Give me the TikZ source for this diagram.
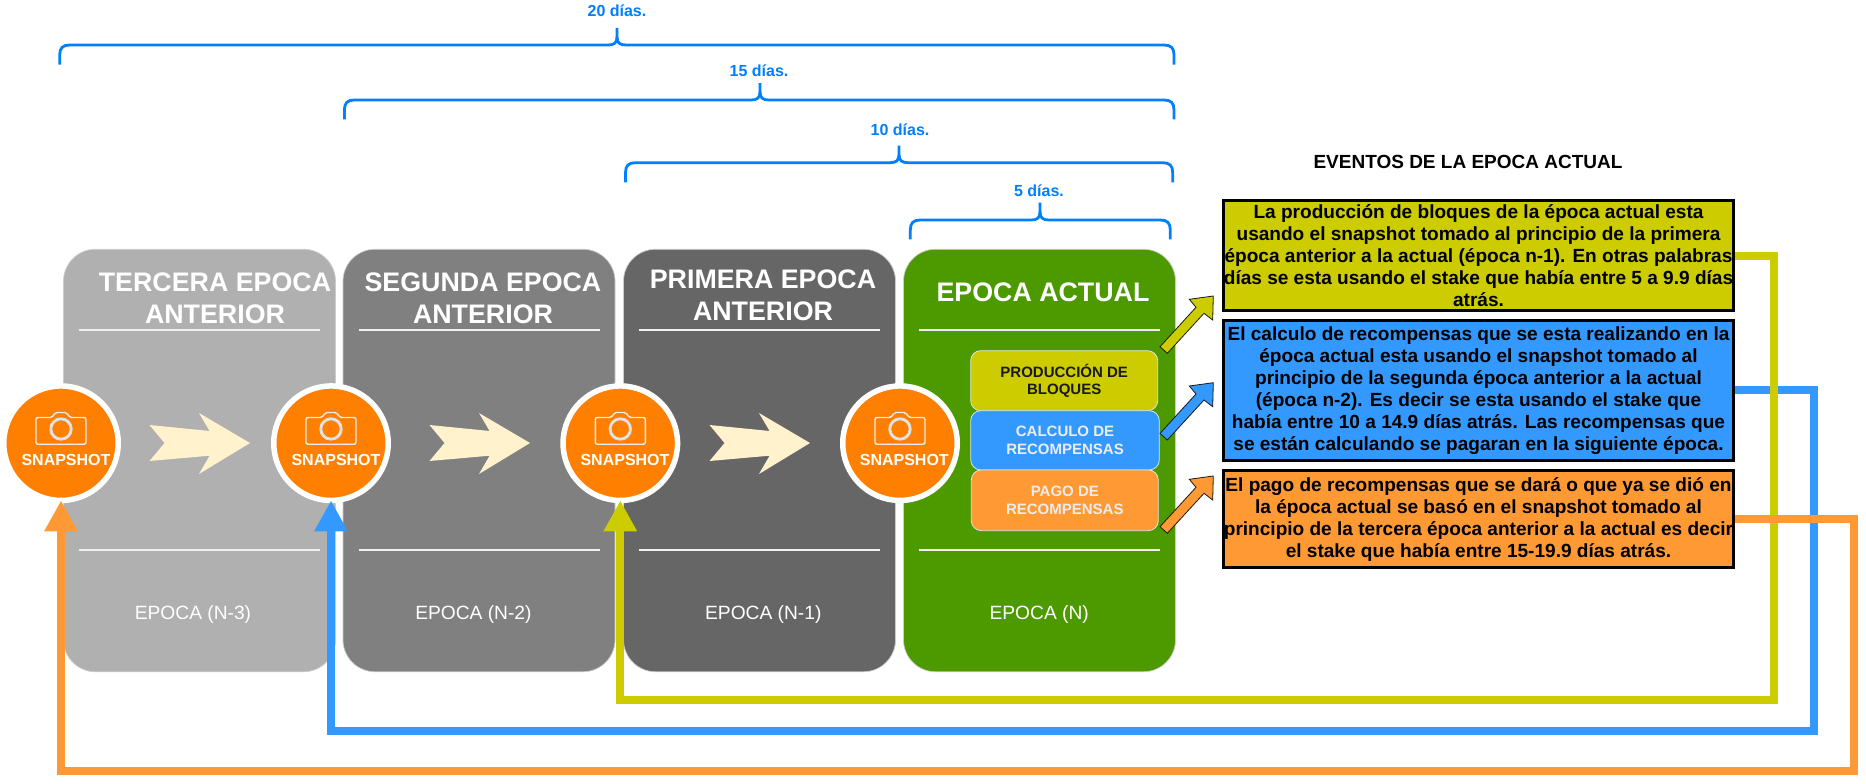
\documentclass[tikz,border=0pt]{standalone}
\usepackage{fontspec}
\setmainfont{Liberation Sans}
\usetikzlibrary{arrows.meta}
\definecolor{cY}{HTML}{CCCC00}
\definecolor{cB}{HTML}{3399FF}
\definecolor{cO}{HTML}{FF9933}
\definecolor{cSnap}{HTML}{FF8000}
\definecolor{cBrace}{HTML}{007FFF}
\definecolor{cChev}{HTML}{FFF2CC}
\definecolor{cP1}{HTML}{B0B0B0}
\definecolor{cP2}{HTML}{808080}
\definecolor{cP3}{HTML}{666666}
\definecolor{cP4}{HTML}{4D9900}
\tikzset{
  panel/.style={draw=white!80!black,line width=.7pt,rounded corners=32pt,minimum width=272pt,minimum height=422.5pt,inner sep=0pt,outer sep=0pt},
  ptitle/.style={font=\bfseries\fontsize{26.8}{32.3}\selectfont,text=white,align=center,inner sep=0pt},
  plabel/.style={font=\fontsize{19.2}{22}\selectfont,text=white,anchor=base,inner sep=0pt},
  rule/.style={draw=white!94!black,line width=1.9pt},
  snap/.style={circle,fill=cSnap,draw=white,line width=5.5pt,minimum size=114.5pt,inner sep=0pt,outer sep=0pt},
  snaptext/.style={font=\bfseries\fontsize{16}{18}\selectfont,text=white,inner sep=0pt},
  chev/.style={fill=cChev},
  inbox/.style={draw=white!88!black,line width=.8pt,rounded corners=10pt,inner sep=0pt,outer sep=0pt,align=center,font=\bfseries\fontsize{15}{17.6}\selectfont},
  evt/.style={draw=black,line width=3pt,inner sep=0pt,minimum width=510pt,align=center,font=\bfseries\fontsize{19.05}{22}\selectfont,text=black},
  conn/.style={line width=8pt,-{Triangle[length=31pt,width=31.5pt]}},
  brace/.style={draw=cBrace,line width=2.8pt,rounded corners=0pt},
  bracelabel/.style={font=\bfseries\fontsize{16}{18}\selectfont,text=cBrace,inner sep=0pt},
  blockarrow/.style={draw=black!90,line width=.8pt,line join=miter},
  cam/.style={draw=white!93!black,line width=1.4pt}
}
% left x, right x, tip x, line y, tip top y, bottom y
\newcommand{\bracepath}[6]{%
  \draw[brace] (#1,#6) -- (#1,#4+10) .. controls (#1,#4+3) and (#1+3,#4) .. (#1+10,#4)
     -- (#3-9,#4) .. controls (#3-3,#4) and (#3,#4-2) .. (#3,#4-8) -- (#3,#5);
  \draw[brace] (#2,#6) -- (#2,#4+10) .. controls (#2,#4+3) and (#2-3,#4) .. (#2-10,#4)
     -- (#3+9,#4) .. controls (#3+3,#4) and (#3,#4-2) .. (#3,#4-8);
}
\begin{document}
\begin{tikzpicture}[x=1pt,y=-1pt]
\path[use as bounding box,fill=white] (0,0) rectangle (1866,784);

% panels
\node[panel,fill=cP1] (p1) at (199.5,460.5) {};
\node[panel,fill=cP2] (p2) at (479,460.5) {};
\node[panel,fill=cP3] (p3) at (759.5,460.5) {};
\node[panel,fill=cP4] (p4) at (1039.5,460.5) {};

% panel titles
\node[ptitle] (t1) at (215,298) {TERCERA EPOCA\\ANTERIOR};
\node[ptitle] (t2) at (483,298) {SEGUNDA EPOCA\\ANTERIOR};
\node[ptitle] (t3) at (763,295) {PRIMERA EPOCA\\ANTERIOR};
\node[ptitle] (t4) at (1043,292.7) {EPOCA ACTUAL};

% rules
\foreach \xa in {79,359,639,919}{
  \draw[rule] (\xa,330) -- ++(240.5,0);
  \draw[rule] (\xa,550) -- ++(240.5,0);
}

% panel labels
\node[plabel] (l1) at (193,619.7) {EPOCA (N-3)};
\node[plabel] (l2) at (473.4,619.7) {EPOCA (N-2)};
\node[plabel] (l3) at (763.3,619.7) {EPOCA (N-1)};
\node[plabel] (l4) at (1039.2,619.7) {EPOCA (N)};

% chevrons
\foreach \dx in {0,280,560}{
  \fill[chev,xshift=\dx pt] (149.5,425) -- (209.6,431) -- (199,413) -- (250,443) -- (199,474) -- (209.6,455.7) -- (149.5,461) -- (164.5,443) -- cycle;
}

% snapshots
\node[snap] (s1) at (61,443.2) {};
\node[snap] (s2) at (331,443.2) {};
\node[snap] (s3) at (620.3,443.2) {};
\node[snap] (s4) at (900,443.2) {};
\foreach \s in {s1,s2,s3,s4}{
  \begin{scope}[shift={(\s.center)}]
    \draw[cam,rounded corners=2pt] (-25,1) -- (-25,-25.7) -- (-8.5,-25.7) -- (-6,-30.7) -- (6,-30.7) -- (8.5,-25.7) -- (25,-25.7) -- (25,1) -- cycle;
    \draw[draw=white!85!black,line width=3pt] (0,-14.2) circle[radius=10.2];
    \draw[draw=white!95!black,line width=.6pt] (0,-14.2) circle[radius=10.2];
  \end{scope}
}
\node[snaptext] (st1) at (66,460) {SNAPSHOT};
\node[snaptext] (st2) at (336,460) {SNAPSHOT};
\node[snaptext] (st3) at (625,460) {SNAPSHOT};
\node[snaptext] (st4) at (904.3,460) {SNAPSHOT};

% inner boxes
\node[inbox,fill=cY,minimum width=187pt,minimum height=60pt,text=black!90] (b1) at (1064.2,380.7) {PRODUCCIÓN DE\\BLOQUES};
\node[inbox,fill=cB,minimum width=188.6pt,minimum height=59.3pt,text=white!93!black] (b2) at (1065,440.3) {CALCULO DE\\RECOMPENSAS};
\node[inbox,fill=cO,minimum width=187pt,minimum height=60.7pt,text=white!93!black] (b3) at (1064.8,500.3) {PAGO DE\\RECOMPENSAS};

% braces
\bracepath{59.7}{1174}{617}{45}{28}{64.7}
\bracepath{344.4}{1174}{760}{100}{83}{119.3}
\bracepath{625.5}{1172.7}{899}{162.7}{145.7}{182.3}
\bracepath{910.3}{1170.3}{1040}{220}{202.7}{239.3}
\node[bracelabel] (d20) at (617,10.7) {20 días.};
\node[bracelabel] (d15) at (759,70.7) {15 días.};
\node[bracelabel] (d10) at (900,130) {10 días.};
\node[bracelabel] (d5) at (1039,190.3) {5 días.};

% events
\node[font=\bfseries\fontsize{19}{22}\selectfont,inner sep=0pt] (evtitle) at (1468,162) {EVENTOS DE LA EPOCA ACTUAL};
\node[evt,fill=cY,minimum height=109.4pt] (e1) at (1478.5,255.5) {La producción de bloques de la época actual esta\\usando el snapshot tomado al principio de la primera\\época anterior a la actual (época n-1). En otras palabras\\días se esta usando el stake que había entre 5 a 9.9 días\\atrás.};
\node[evt,fill=cB,minimum height=139.7pt] (e2) at (1478.5,390.35) {El calculo de recompensas que se esta realizando en la\\época actual esta usando el snapshot tomado al\\principio de la segunda época anterior a la actual\\(época n-2). Es decir se esta usando el stake que\\había entre 10 a 14.9 días atrás. Las recompensas que\\se están calculando se pagaran en la siguiente época.};
\node[evt,fill=cO,minimum height=97pt] (e3) at (1478.5,519.3) {El pago de recompensas que se dará o que ya se dió en\\la época actual se basó en el snapshot tomado al\\principio de la tercera época anterior a la actual es decir\\el stake que había entre 15-19.9 días atrás.};

% connectors
\coordinate (cn2) at (1813.5,730.5);
\coordinate (cn1) at (1773.5,700);
\coordinate (cn3) at (1854,770.5);
\draw[conn,draw=cB] (e2.east) -| (cn2) -| (s2.south);
\draw[conn,draw=cY] (e1.east) -| (cn1) -| (s3.south);
\draw[conn,draw=cO] (e3.east) -| (cn3) -| (s1.south);

% block arrows
\foreach \dy/\c in {0/cY,86.7/cB,180/cO}{
  \draw[blockarrow,fill=\c,yshift=-\dy pt] (1160,346.7) -- (1196,307.3) -- (1189.3,299.3) -- (1213.3,296) -- (1212.7,320) -- (1204,313.3) -- (1167.3,353.3) -- cycle;
}
\end{tikzpicture}
\end{document}
